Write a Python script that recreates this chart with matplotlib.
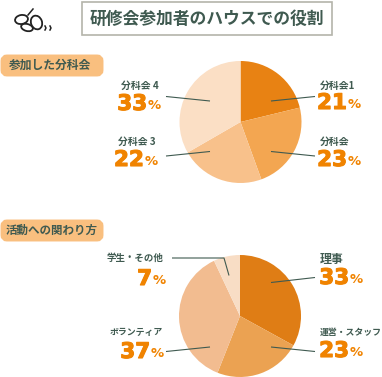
import matplotlib
matplotlib.use("Agg")
import matplotlib.pyplot as plt
import matplotlib.patheffects as pe
from matplotlib.patches import FancyBboxPatch, Rectangle, Ellipse

plt.rcParams['font.family'] = ['Noto Sans CJK JP', 'DejaVu Sans']

# данные
title = "研修会参加者のハウスでの役割"
heading1 = "参加した分科会"
heading2 = "活動への関わり方"

labels1 = ["分科会1", "分科会", "分科会 3", "分科会 4"]
values1 = [21, 23, 22, 33]
colors1 = ["#E88213", "#F3A651", "#F8C18B", "#FBDFC5"]

labels2 = ["理事", "運営・スタッフ", "ボランティア", "学生・その他"]
values2 = [33, 23, 37, 7]
colors2 = ["#DF7D15", "#EBA252", "#F2BC90", "#F8DDC5"]

dark = "#3F5A50"
orange = "#F08300"

fig = plt.figure(figsize=(3.82, 3.77), dpi=100)
ax = fig.add_axes([0, 0, 1, 1])  # оси в пикселях картинки


def draw_pie(values, colors, cx, cy):
    # ось y перевернута, поэтому counterclock=True идет по часовой на экране
    ax.pie(values, colors=colors, startangle=-90, counterclock=True,
           center=(cx, cy), radius=61, frame=True)


def draw_label(name, value, name_x, name_ha, num_x, num_y, name_y, name_size=7.1):
    ax.text(name_x, name_y, name, fontsize=name_size, fontweight="bold", color=dark,
            ha=name_ha, va="center")
    # число и знак процента отдельно, у них разный размер
    heavy = [pe.withStroke(linewidth=0.8, foreground=orange)]
    ax.text(num_x, num_y, str(value), fontsize=15.5, fontweight="bold", color=orange,
            ha="right", va="center", family="DejaVu Sans", path_effects=heavy)
    ax.text(num_x + 1, num_y + 1.5, "%", fontsize=9.5, fontweight="bold", color=orange,
            ha="left", va="center", family="DejaVu Sans")


def leader(xs, ys):
    ax.plot(xs, ys, color=dark, lw=0.8, solid_capstyle="butt")


draw_pie(values1, colors1, 240.5, 122)
draw_pie(values2, colors2, 240, 316)
ax.set_xlim(0, 382)
ax.set_ylim(377, 0)
ax.set_aspect("auto")
ax.axis("off")

# подписи верхнего круга
draw_label(labels1[3], values1[3], 159, "right", 147, 104, 86)
draw_label(labels1[2], values1[2], 156, "right", 144, 160, 142)
draw_label(labels1[0], values1[0], 320, "left", 347, 103, 86)
draw_label(labels1[1], values1[1], 320, "left", 347, 160, 142)
leader([166, 210], [96.5, 101])
leader([166, 210], [156, 151.5])
leader([271, 315], [101, 96.5])
leader([271, 315], [151.5, 156])

# подписи нижнего круга
draw_label(labels2[0], values2[0], 320, "left", 349, 278, 260, name_size=8.6)
draw_label(labels2[1], values2[1], 320, "left", 349, 351, 332, name_size=6.4)
draw_label(labels2[2], values2[2], 163, "right", 150, 352, 332, name_size=6.4)
draw_label(labels2[3], values2[3], 163, "right", 152, 279, 258, name_size=6.8)
leader([271, 315], [282.5, 277.5])
leader([271, 315], [347, 351.5])
leader([166, 210], [351.5, 347])
leader([172, 224, 229], [258, 258, 275.5])

# заголовок в рамке
ax.add_patch(Rectangle((82, 2), 250, 33, facecolor="white", edgecolor="#B4B4AA", lw=1.2))
ax.text(207, 19, title, fontsize=12.1, fontweight="bold", color=dark, ha="center", va="center")

# плашки разделов
for y in [55, 220]:
    ax.add_patch(FancyBboxPatch((4, y + 3), 96, 15, boxstyle="round,pad=0,rounding_size=3",
                                facecolor="#F9BF7F", edgecolor="#F9BF7F", lw=5))
ax.text(50, 65, heading1, fontsize=8.5, fontweight="bold", color=dark, ha="center", va="center")
ax.text(51.5, 230.5, heading2, fontsize=8.3, fontweight="bold", color=dark, ha="center", va="center")

# бабочка
for cx, cy, w, h, ang in [(21.5, 19.5, 13, 9, -10), (27, 27.5, 12, 7, 15), (36.5, 22.5, 11, 14, -20)]:
    ax.add_patch(Ellipse((cx, cy), w, h, angle=ang, facecolor="white", edgecolor="#222222", lw=1.3))
ax.plot([28, 33], [15, 9], color="#222222", lw=1.1)
ax.plot([45, 46, 45], [26, 28, 30], color="#222222", lw=1.1)
ax.plot([50, 51, 50], [26, 28, 30], color="#222222", lw=1.1)

fig.savefig("out.png", dpi=100)
